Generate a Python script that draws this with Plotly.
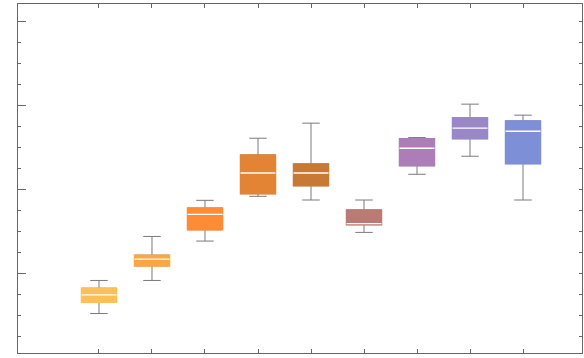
import plotly.graph_objects as go

# box-whisker stats (one entry per box, left to right)
positions = [1, 2, 3, 4, 5, 6, 7, 8, 9]
lower_whisker = [0.524, 0.917, 1.385, 1.917, 1.873, 1.488, 2.179, 2.393, 1.873]
q1 = [0.658, 1.090, 1.519, 1.948, 2.043, 1.580, 2.281, 2.602, 2.305]
medians = [0.745, 1.170, 1.702, 2.194, 2.194, 1.593, 2.488, 2.726, 2.690]
q3 = [0.825, 1.218, 1.777, 2.408, 2.301, 1.754, 2.600, 2.849, 2.813]
upper_whisker = [0.917, 1.440, 1.869, 2.607, 2.786, 1.873, 2.615, 3.012, 2.881]
colors = ['#FDBF57', '#FDA643', '#FD8C35', '#E28433', '#C77A35',
          '#B97B73', '#AD7DB9', '#9987C7', '#7D8FD7']

y_major = [1, 2, 3, 4]
y_right = [i * 0.25 for i in range(1, 17)]

WHISKER = '#7a7a7a'
FRAME = '#666666'
BOX_W = 0.66

fig = go.Figure()
for i in range(len(positions)):
    # whiskers (gray); the gray box outline is painted over next
    fig.add_trace(go.Box(
        x=[positions[i]], q1=[q1[i]], median=[medians[i]], q3=[q3[i]],
        lowerfence=[lower_whisker[i]], upperfence=[upper_whisker[i]],
        width=BOX_W, whiskerwidth=0.5, fillcolor=colors[i],
        line=dict(color=WHISKER, width=1), boxpoints=False,
        hoverinfo='skip', showlegend=False))
    # solid box, outline in the fill colour
    fig.add_trace(go.Box(
        x=[positions[i]], q1=[q1[i]], median=[medians[i]], q3=[q3[i]],
        lowerfence=[q1[i]], upperfence=[q3[i]],
        width=BOX_W, whiskerwidth=0, fillcolor=colors[i],
        line=dict(color=colors[i], width=1.5), boxpoints=False,
        hoverinfo='skip', showlegend=False))
    # white median line
    fig.add_trace(go.Box(
        x=[positions[i]], q1=[medians[i]], median=[medians[i]], q3=[medians[i]],
        lowerfence=[medians[i]], upperfence=[medians[i]],
        width=BOX_W, whiskerwidth=0, fillcolor='white',
        line=dict(color='white', width=1.3), boxpoints=False,
        hoverinfo='skip', showlegend=False))

# dummy trace so the right-hand tick axis gets drawn
fig.add_trace(go.Scatter(x=[None], y=[None], yaxis='y2', showlegend=False, hoverinfo='skip'))

fig.update_layout(
    width=584, height=358,
    margin=dict(l=18, r=2, t=4, b=5),
    paper_bgcolor='white', plot_bgcolor='white',
    boxmode='overlay',
    xaxis=dict(range=[-0.528, 10.113], tickvals=positions, showticklabels=False,
               ticks='inside', ticklen=4, tickcolor=FRAME, showgrid=False, zeroline=False,
               showline=True, linecolor=FRAME, linewidth=1, mirror='ticks'),
    yaxis=dict(range=[0.055, 4.202], tickvals=y_major, showticklabels=False,
               ticks='inside', ticklen=8, tickcolor=FRAME, showgrid=False, zeroline=False,
               showline=True, linecolor=FRAME, linewidth=1, mirror=True,
               minor=dict(ticks='inside', ticklen=3, tickcolor=FRAME, dtick=0.25, tick0=0,
                          showgrid=False)),
    yaxis2=dict(range=[0.055, 4.202], overlaying='y', side='right', tickvals=y_right,
                showticklabels=False, ticks='inside', ticklen=3, tickcolor=FRAME,
                showgrid=False, zeroline=False, showline=False),
)

# drop the browser's default body margin so the chart sits at (0, 0)
fig.write_html("out.html", config={'displayModeBar': False},
               post_script="document.body.style.margin='0';")
